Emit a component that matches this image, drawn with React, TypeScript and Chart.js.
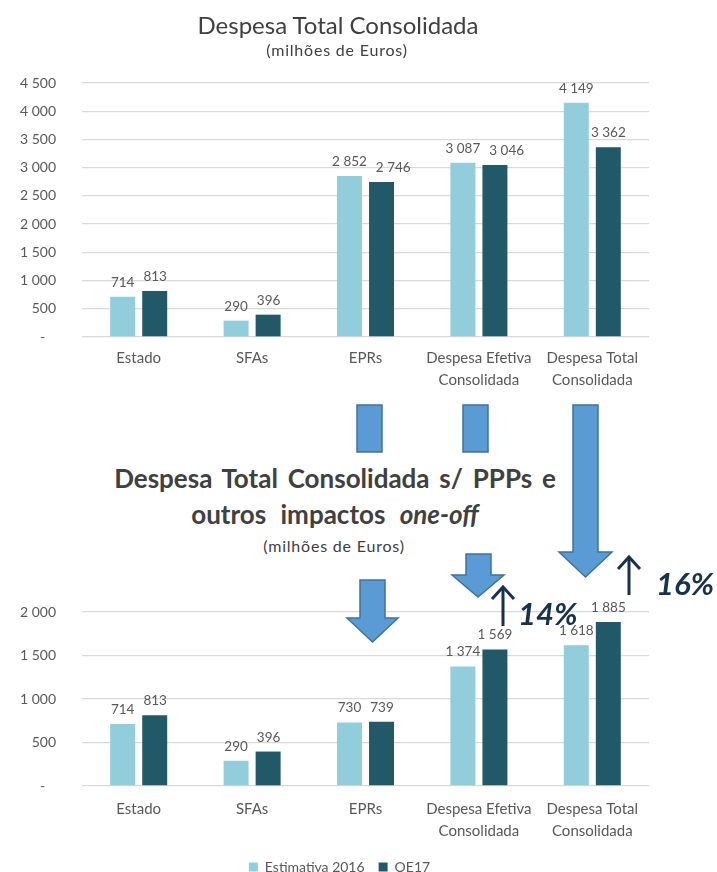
import React, { useEffect, useRef } from "react";
import { Chart, registerables } from "chart.js";

Chart.register(...registerables);

// ---------- data ----------
const categories: string[][] = [
  ["Estado"],
  ["SFAs"],
  ["EPRs"],
  ["Despesa Efetiva", "Consolidada"],
  ["Despesa Total", "Consolidada"],
];
const seriesNames = ["Estimativa 2016", "OE17"];
const totalEstimativa2016 = [714, 290, 2852, 3087, 4149];
const totalOE17 = [813, 396, 2746, 3046, 3362];
const semPPPEstimativa2016 = [714, 290, 730, 1374, 1618];
const semPPPOE17 = [813, 396, 739, 1569, 1885];
const topAxisMax = 4500;
const bottomAxisMax = 2000;
const axisStep = 500;
const growthLabels = ["14%", "16%"];

// ---------- style ----------
const LIGHT = "#92CDDC";
const DARK = "#215968";
const GRID = "#D9D9D9";
const TEXT = "#595959";
const TITLE = "#404040";
const ARROW_FILL = "#5B9BD5";
const ARROW_STROKE = "#41719C";
const NAVY = "#17324F";
const FONT = "Lato, 'Open Sans', sans-serif";
const LABEL_SIZE = 13.5;
const LEGEND_SHIFT = 15;

const fmt = (v: number) =>
  v === 0 ? "-   " : String(v).replace(/\B(?=(\d{3})+(?!\d))/g, " ");

// data labels above bars, nudging the second label right when two labels collide
const dataLabelPlugin = {
  id: "dataLabels",
  afterDatasetsDraw(chart: any) {
    const ctx = chart.ctx;
    ctx.save();
    ctx.font = `${LABEL_SIZE}px ${FONT}`;
    ctx.fillStyle = TEXT;
    ctx.textAlign = "center";
    ctx.textBaseline = "alphabetic";
    const items = chart.data.datasets.map((ds: any, i: number) =>
      chart.getDatasetMeta(i).data.map((bar: any, j: number) => {
        const text = fmt(ds.data[j]);
        return { text, x: bar.x, y: bar.y - 10, w: ctx.measureText(text).width };
      })
    );
    if (items.length === 2) {
      items[0].forEach((a: any, j: number) => {
        const b = items[1][j];
        if (Math.abs(a.y - b.y) < 14) {
          const minLeft = a.x + a.w / 2 + 9;
          if (b.x - b.w / 2 < minLeft) b.x = minLeft + b.w / 2;
        }
      });
    }
    items.forEach((arr: any[]) =>
      arr.forEach((it) => ctx.fillText(it.text, it.x, it.y))
    );
    ctx.restore();
  },
};

// move the legend block sideways (the layout padding narrows its box)
const legendShiftPlugin = {
  id: "legendShift",
  afterLayout(chart: any) {
    if (chart.legend && chart.options.plugins.legend.display) {
      chart.legend.left += LEGEND_SHIFT;
      chart.legend.right += LEGEND_SHIFT;
    }
  },
};

function makeConfig(
  est: number[],
  oe: number[],
  max: number,
  padding: any,
  xHeight: number,
  xPad: number,
  legend: boolean
): any {
  return {
    type: "bar",
    data: {
      labels: categories,
      datasets: [
        { label: seriesNames[0], data: est, backgroundColor: LIGHT },
        { label: seriesNames[1], data: oe, backgroundColor: DARK },
      ],
    },
    options: {
      animation: false,
      responsive: false,
      maintainAspectRatio: false,
      layout: { padding },
      datasets: { bar: { categoryPercentage: 0.565, barPercentage: 0.78 } },
      plugins: {
        title: { display: false },
        tooltip: { enabled: false },
        legend: {
          display: legend,
          position: "bottom",
          labels: {
            boxWidth: 9,
            boxHeight: 9,
            padding: 14,
            color: TEXT,
            font: { family: FONT, size: 14 },
          },
        },
      },
      scales: {
        x: {
          grid: { display: false },
          border: { display: false },
          ticks: {
            color: TEXT,
            font: { family: FONT, size: 15, lineHeight: 1.42 },
            padding: xPad,
            maxRotation: 0,
            autoSkip: false,
          },
          afterFit: (s: any) => {
            s.height = xHeight;
          },
        },
        y: {
          min: 0,
          max,
          ticks: {
            stepSize: axisStep,
            padding: 26,
            color: TEXT,
            font: { family: FONT, size: 14 },
            callback: (v: any) => fmt(Number(v)),
          },
          grid: { color: GRID, drawTicks: false, lineWidth: 1.3 },
          border: { display: false },
          afterFit: (s: any) => {
            s.width = 82;
            s.paddingTop = 0;
            s.paddingBottom = 0;
          },
        },
      },
    },
    plugins: [dataLabelPlugin, legendShiftPlugin],
  };
}

function blockArrow(
  sx1: number,
  sx2: number,
  top: number,
  hb: number,
  hx1: number,
  hx2: number,
  tipY: number
) {
  const tipX = (hx1 + hx2) / 2;
  return `M${sx1},${top} L${sx2},${top} L${sx2},${hb} L${hx2},${hb} L${tipX},${tipY} L${hx1},${hb} L${sx1},${hb} Z`;
}

export default function App() {
  const topRef = useRef<HTMLCanvasElement>(null);
  const botRef = useRef<HTMLCanvasElement>(null);

  useEffect(() => {
    document.body.style.margin = "0";
    const c1 = new Chart(
      topRef.current!,
      makeConfig(
        totalEstimativa2016,
        totalOE17,
        topAxisMax,
        { top: 83, right: 68, left: 0, bottom: 0 },
        63,
        3,
        false
      )
    );
    const c2 = new Chart(
      botRef.current!,
      makeConfig(
        semPPPEstimativa2016,
        semPPPOE17,
        bottomAxisMax,
        { top: 22, right: 68, left: 0, bottom: 0 },
        60,
        5,
        true
      )
    );
    return () => {
      c1.destroy();
      c2.destroy();
    };
  }, []);

  const abs: React.CSSProperties = { position: "absolute" };
  const line = (
    top: number,
    h: number,
    size: number,
    width: number,
    extra: React.CSSProperties = {}
  ): React.CSSProperties => ({
    ...abs,
    left: 0,
    width,
    top,
    height: h,
    lineHeight: `${h}px`,
    fontSize: size,
    color: TITLE,
    textAlign: "center",
    whiteSpace: "nowrap",
    ...extra,
  });

  return (
    <div
      style={{
        position: "relative",
        width: 717,
        height: 872,
        overflow: "hidden",
        background: "#fff",
        fontFamily: FONT,
      }}
    >
      <canvas
        ref={topRef}
        width={717}
        height={400}
        style={{ ...abs, left: 0, top: 0, width: 717, height: 400 }}
      />
      <canvas
        ref={botRef}
        width={717}
        height={294}
        style={{ ...abs, left: 0, top: 590, width: 717, height: 294 }}
      />
      {/* top titles */}
      <div style={line(12, 26, 24, 676)}>Despesa Total Consolidada</div>
      <div style={line(41, 18, 16, 674, { letterSpacing: 0.8 })}>(milhões de Euros)</div>
      {/* middle titles */}
      <div style={line(465, 26, 26, 670, { fontWeight: 700, wordSpacing: 3.5 })}>
        Despesa Total Consolidada s/ PPPs e
      </div>
      <div style={line(501, 26, 26, 670, { fontWeight: 700, wordSpacing: 8 })}>
        outros impactos <i>one-off</i>
      </div>
      <div style={line(537, 18, 16, 668, { letterSpacing: 0.8 })}>(milhões de Euros)</div>
      {/* arrows overlay */}
      <svg
        width={717}
        height={872}
        style={{ ...abs, left: 0, top: 0, pointerEvents: "none" }}
      >
        <g fill={ARROW_FILL} stroke={ARROW_STROKE} strokeWidth={1.5}>
          <rect x={357} y={405} width={25} height={47} />
          <rect x={463} y={405} width={25} height={47} />
          <path d={blockArrow(360, 385, 580, 618, 347, 398, 642)} />
          <path d={blockArrow(466, 491, 554, 575, 452, 504, 597)} />
          <path d={blockArrow(573, 598, 405, 552, 559, 612, 577)} />
        </g>
        <g stroke={NAVY} strokeWidth={3} fill="none">
          <line x1={503} y1={626} x2={503} y2={588} />
          <polyline points="492,599 503,587 514,599" />
          <line x1={629} y1={595} x2={629} y2={558} />
          <polyline points="618,569 629,557 640,569" />
        </g>
        <g
          fill={NAVY}
          style={{ fontFamily: FONT, fontWeight: 700, fontStyle: "italic", fontSize: 31 }}
        >
          <text x={518} y={625}>
            {growthLabels[0]}
          </text>
          <text x={656} y={595}>
            {growthLabels[1]}
          </text>
        </g>
      </svg>
    </div>
  );
}
